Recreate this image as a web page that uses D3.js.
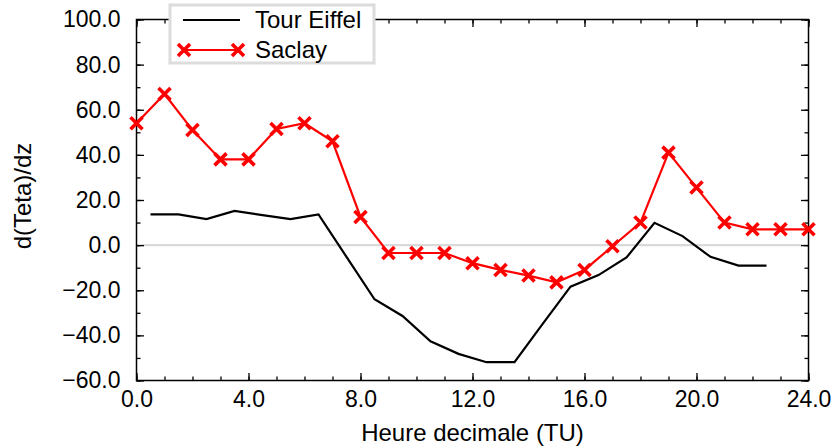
<!DOCTYPE html>
<html>
<head>
<meta charset="utf-8">
<script src="https://cdn.jsdelivr.net/npm/d3@7"></script>
<style>
  html, body { margin: 0; padding: 0; background: #fff; }
  svg { display: block; font-family: "Liberation Sans", Arial, sans-serif; }
</style>
</head>
<body>
<svg id="chart" width="832" height="448"></svg>
<script>
// ---- data ----
const saclayHours = [0,1,2,3,4,5,6,7,8,9,10,11,12,13,14,15,16,17,18,19,20,21,22,23,24];
const saclayValues = [54,67,51,38,38,51.5,54,46,12.5,-3.5,-3.5,-3.5,-8,-11,-13.5,-16.5,-11,-0.5,10,41,25.5,10,7,7,7];
const eiffelHours = [0.5,1.5,2.5,3.5,4.5,5.5,6.5,7.5,8.5,9.5,10.5,11.5,12.5,13.5,14.5,15.5,16.5,17.5,18.5,19.5,20.5,21.5,22.5];
const eiffelValues = [13.6,13.6,11.5,15.2,13.3,11.5,13.6,-5.2,-24,-31.4,-42.6,-48.2,-51.9,-51.9,-35,-18.4,-13.3,-5.5,9.9,4,-5.2,-9.1,-9.1];
const xTicks = [0,4,8,12,16,20,24];
const yTicks = [-60,-40,-20,0,20,40,60,80,100];
const seriesNames = ["Tour Eiffel", "Saclay"];

// ---- layout ----
const svg = d3.select("#chart");
const L = 136.5, R = 808.5, T = 19.5, B = 380.5;
const x = d3.scaleLinear().domain([0,24]).range([L,R]);
const y = d3.scaleLinear().domain([-60,100]).range([B,T]);
const fmt = d3.format(".1f");
const fmtLabel = v => fmt(v).replace("-", "\u2212");
const FS = 23, FT = 24;

// zero line
svg.append("line")
  .attr("x1", x(0)).attr("x2", x(24))
  .attr("y1", y(0)).attr("y2", y(0))
  .attr("stroke", "#d9d9d9").attr("stroke-width", 2.2);

// frame
svg.append("rect")
  .attr("x", L).attr("y", T).attr("width", R-L).attr("height", B-T)
  .attr("fill", "none").attr("stroke", "#000").attr("stroke-width", 1.5);

const minorX = d3.range(0, 25, 1);
const minorY = d3.range(-60, 101, 10);

function styleAxis(g){
  g.select(".domain").remove();
  g.selectAll(".tick line").attr("stroke", "#000").attr("stroke-width", 1.3);
}

// bottom
svg.append("g").attr("transform", `translate(0,${B})`)
  .call(d3.axisBottom(x).tickValues(minorX).tickSize(-4).tickFormat(""))
  .call(styleAxis);
svg.append("g").attr("transform", `translate(0,${B})`)
  .call(d3.axisBottom(x).tickValues(xTicks).tickSize(-7.5).tickPadding(20).tickFormat(fmtLabel))
  .call(styleAxis)
  .call(g => g.selectAll("text").attr("font-size", FS).attr("fill", "#000")
        .attr("font-family", "Liberation Sans, Arial, sans-serif").attr("dy", "0.3em"));
// top
svg.append("g").attr("transform", `translate(0,${T})`)
  .call(d3.axisTop(x).tickValues(minorX).tickSize(-4).tickFormat(""))
  .call(styleAxis);
svg.append("g").attr("transform", `translate(0,${T})`)
  .call(d3.axisTop(x).tickValues(xTicks).tickSize(-7.5).tickFormat(""))
  .call(styleAxis);
// left
svg.append("g").attr("transform", `translate(${L},0)`)
  .call(d3.axisLeft(y).tickValues(minorY).tickSize(-4).tickFormat(""))
  .call(styleAxis);
svg.append("g").attr("transform", `translate(${L},0)`)
  .call(d3.axisLeft(y).tickValues(yTicks).tickSize(-7.5).tickPadding(16).tickFormat(fmtLabel))
  .call(styleAxis)
  .call(g => g.selectAll("text").attr("font-size", FS).attr("fill", "#000")
        .attr("font-family", "Liberation Sans, Arial, sans-serif"));
// right
svg.append("g").attr("transform", `translate(${R},0)`)
  .call(d3.axisRight(y).tickValues(minorY).tickSize(-4).tickFormat(""))
  .call(styleAxis);
svg.append("g").attr("transform", `translate(${R},0)`)
  .call(d3.axisRight(y).tickValues(yTicks).tickSize(-7.5).tickFormat(""))
  .call(styleAxis);

// axis titles
svg.append("text")
  .attr("x", (L+R)/2).attr("y", 441)
  .attr("text-anchor", "middle").attr("font-size", FT).attr("fill", "#000")
  .text("Heure decimale (TU)");
svg.append("text")
  .attr("transform", `translate(31,196) rotate(-90)`)
  .attr("text-anchor", "middle").attr("font-size", FT).attr("fill", "#000")
  .text("d(Teta)/dz");

// series
const line = d3.line().x(d => x(d[0])).y(d => y(d[1]));
const eiffelData = eiffelHours.map((h,i) => [h, eiffelValues[i]]);
const saclayData = saclayHours.map((h,i) => [h, saclayValues[i]]);

svg.append("path").datum(eiffelData)
  .attr("d", line).attr("fill", "none")
  .attr("stroke", "#000").attr("stroke-width", 2.2).attr("stroke-linejoin", "miter");

svg.append("path").datum(saclayData)
  .attr("d", line).attr("fill", "none")
  .attr("stroke", "#ff0000").attr("stroke-width", 2.2);

const crossPath = (cx, cy, s) => `M${cx-s},${cy-s}L${cx+s},${cy+s}M${cx-s},${cy+s}L${cx+s},${cy-s}`;
svg.append("g").selectAll("path").data(saclayData).join("path")
  .attr("d", d => crossPath(x(d[0]), y(d[1]), 6))
  .attr("stroke", "#ff0000").attr("stroke-width", 3.6).attr("fill", "none");

// legend
const lg = svg.append("g");
lg.append("rect")
  .attr("x", 170).attr("y", 5).attr("width", 204).attr("height", 58)
  .attr("fill", "#fff").attr("stroke", "#dcdcdc").attr("stroke-width", 3);
lg.append("line").attr("x1", 183).attr("x2", 240).attr("y1", 20).attr("y2", 20)
  .attr("stroke", "#000").attr("stroke-width", 2.2);
lg.append("text").attr("x", 255).attr("y", 28).attr("font-size", FT).attr("fill", "#000")
  .text(seriesNames[0]);
lg.append("line").attr("x1", 184).attr("x2", 238).attr("y1", 50).attr("y2", 50)
  .attr("stroke", "#ff0000").attr("stroke-width", 2.2);
[184, 238].forEach(cx => lg.append("path").attr("d", crossPath(cx, 50, 6))
  .attr("stroke", "#ff0000").attr("stroke-width", 3.6).attr("fill", "none"));
lg.append("text").attr("x", 255).attr("y", 58).attr("font-size", FT).attr("fill", "#000")
  .text(seriesNames[1]);
</script>
</body>
</html>
